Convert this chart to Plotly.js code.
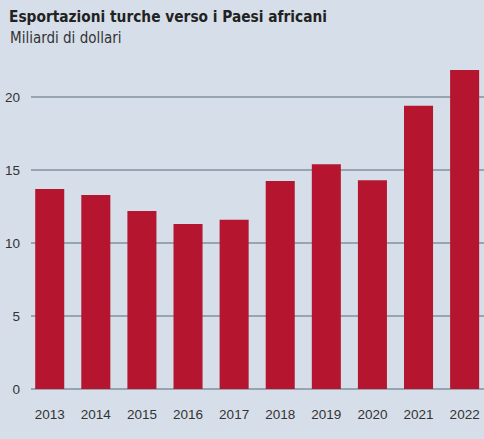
<!DOCTYPE html>
<html>
<head>
<meta charset="utf-8">
<script src="https://cdn.plot.ly/plotly-3.0.1.min.js"></script>
<style>
html,body{margin:0;padding:0;background:#d6dfe9;}
#chart{width:484px;height:439px;}
</style>
</head>
<body>
<div id="chart"></div>
<script>
const years = ['2013','2014','2015','2016','2017','2018','2019','2020','2021','2022'];
const exportsBn = [13.7, 13.3, 12.2, 11.3, 11.6, 14.25, 15.4, 14.3, 19.4, 21.85];
const titleText = 'Esportazioni turche verso i Paesi africani';
const subtitleText = 'Miliardi di dollari';
const yTicks = [0, 5, 10, 15, 20];

const narrow = '"Liberation Sans Narrow", "Arial Narrow", "DejaVu Sans Condensed", sans-serif';
const tickFont = {family: '"Liberation Sans", Arial, sans-serif', size: 13.5, color: '#333333'};

Plotly.newPlot('chart', [{
  type: 'bar',
  x: years,
  y: exportsBn,
  marker: {color: '#b5152f', line: {width: 0}},
  hoverinfo: 'x+y'
}], {
  width: 484,
  height: 439,
  paper_bgcolor: '#d6dfe9',
  plot_bgcolor: '#d6dfe9',
  margin: {l: 31, r: 0, t: 46, b: 50, pad: 0},
  bargap: 0.37,
  showlegend: false,
  title: {
    text: '<b>' + titleText + '</b>',
    xref: 'container', yref: 'container',
    x: 9/484, xanchor: 'left',
    y: 1 - 17/439, yanchor: 'middle',
    font: {family: narrow, size: 15.3, color: '#222222'}
  },
  annotations: [{
    text: subtitleText,
    xref: 'paper', yref: 'paper',
    x: (8 - 31)/453, xanchor: 'left',
    y: (389 - 38)/343, yanchor: 'middle',
    showarrow: false,
    font: {family: narrow, size: 15, color: '#333333'}
  }],
  xaxis: {
    type: 'category',
    range: [-0.406, 9.42],
    showgrid: false,
    zeroline: false,
    showline: false,
    ticks: '',
    ticklabelstandoff: 15,
    tickfont: tickFont,
    fixedrange: true
  },
  yaxis: {
    range: [0, 23.5],
    tickvals: yTicks,
    ticktext: yTicks.map(String),
    showgrid: true,
    gridcolor: '#97a5b3',
    gridwidth: 1.5,
    zeroline: true,
    zerolinecolor: '#97a5b3',
    zerolinewidth: 1.5,
    showline: false,
    ticks: '',
    ticklabelstandoff: 10,
    tickfont: tickFont,
    fixedrange: true
  }
}, {displayModeBar: false, staticPlot: true});
</script>
</body>
</html>
